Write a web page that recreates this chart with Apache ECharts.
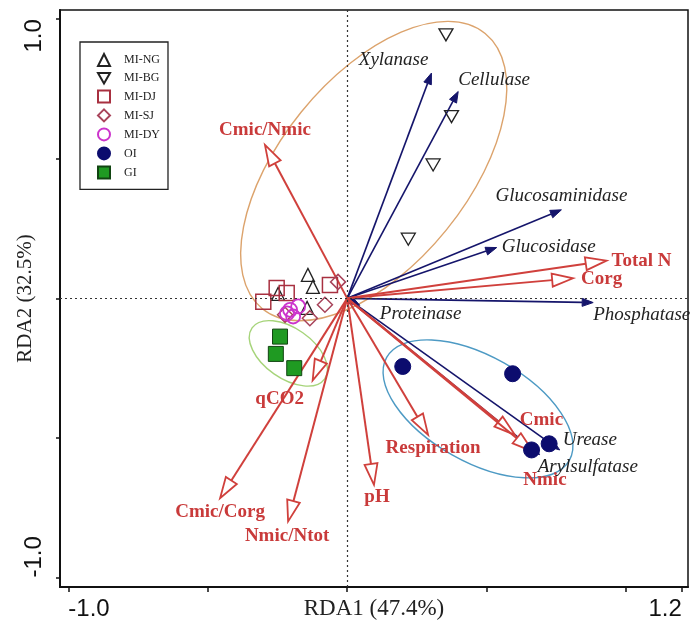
<!DOCTYPE html>
<html><head><meta charset="utf-8">
<script src="https://cdn.jsdelivr.net/npm/echarts@6/dist/echarts.min.js"></script>
<style>html,body{margin:0;padding:0;background:#fff}#c{width:694px;height:626px}</style>
</head><body><div id="c"></div>
<script>
// ---------- data ----------
const MI_NG = [[-0.141,0.084],[-0.123,0.041],[-0.248,0.016],[-0.144,-0.034]];
const MI_BG = [[0.354,0.944],[0.374,0.651],[0.308,0.478],[0.219,0.212]];
const MI_DJ = [[-0.253,0.037],[-0.217,0.019],[-0.301,-0.012],[-0.062,0.048]];
const MI_SJ = [[-0.033,0.059],[-0.080,-0.023],[-0.223,-0.059],[-0.134,-0.071]];
const MI_DY = [[-0.205,-0.041],[-0.176,-0.029],[-0.216,-0.054],[-0.194,-0.065]];
const OI = [[0.199,-0.244],[0.593,-0.270],[0.661,-0.543],[0.724,-0.521]];
const GI = [[-0.241,-0.137],[-0.256,-0.199],[-0.190,-0.250]];

const enzymeNames = ['Xylanase','Cellulase','Glucosaminidase','Glucosidase','Phosphatase','Proteinase','Urease','Arylsulfatase'];
const enzymeX = [0.302,0.398,0.768,0.536,0.882,0.045,0.762,0.690];
const enzymeY = [0.807,0.741,0.317,0.182,-0.015,-0.025,-0.543,-0.560];

const soilNames = ['Total N','Corg','Cmic/Nmic','qCO2','Cmic/Corg','Nmic/Ntot','pH','Respiration','Cmic','Nmic'];
const soilX = [0.930,0.810,-0.295,-0.124,-0.456,-0.212,0.096,0.290,0.601,0.666];
const soilY = [0.135,0.072,0.550,-0.294,-0.716,-0.799,-0.668,-0.489,-0.489,-0.549];

// group ellipses: centre, semi-axes, angle (deg)
const ellipseCX = [0.095,0.469,-0.211];
const ellipseCY = [0.456,-0.396,-0.197];
const ellipseA = [0.635,0.376,0.159];
const ellipseB = [0.335,0.189,0.090];
const ellipseAngle = [51,-29.4,-35];

const xTicks = [-1,-0.5,0,0.5,1,1.2];
const xTickLabels = [-1,1.2];
const yTicks = [-1,-0.5,0,0.5,1];
const yTickLabels = [-1,1];

// ---------- styles / layout ----------
const ellipseColors = ['#dca36c','#4d9ac4','#a6d47a'];
const NAVY = '#15156b', RED = '#d0403c';
const labelPos = {
  'Xylanase':[-3,-13,'right'], 'Cellulase':[0,-12,'left'], 'Glucosaminidase':[0,-14,'center'],
  'Glucosidase':[5,-1,'left'], 'Phosphatase':[0,12,'left'], 'Proteinase':[20,9,'left'],
  'Urease':[3,-10,'left'], 'Arylsulfatase':[-2,12,'left'],
  'Total N':[5,0,'left'], 'Corg':[8,1,'left'], 'Cmic/Nmic':[0,-15,'center'], 'qCO2':[-33,19,'center'],
  'Cmic/Corg':[0,14,'center'], 'Nmic/Ntot':[-1,15,'center'], 'pH':[3,12,'center'],
  'Respiration':[5,13,'center'], 'Cmic':[5,-15,'left'], 'Nmic':[12,28,'center']
};
const invTri = 'path://M0,0L20,0L10,17.3Z';
const groups = [
  {name:'MI-NG', data:MI_NG, symbol:'triangle', size:13, fill:'rgba(255,255,255,0)', stroke:'#222', bw:1.3},
  {name:'MI-BG', data:MI_BG, symbol:invTri, size:[14,12], fill:'rgba(255,255,255,0)', stroke:'#222', bw:1.3},
  {name:'MI-DJ', data:MI_DJ, symbol:'rect', size:15, fill:'rgba(255,255,255,0)', stroke:'#a83040', bw:1.5},
  {name:'MI-SJ', data:MI_SJ, symbol:'diamond', size:15, fill:'rgba(255,255,255,0)', stroke:'#a8435a', bw:1.5},
  {name:'MI-DY', data:MI_DY, symbol:'circle', size:14, fill:'rgba(255,255,255,0)', stroke:'#cc33cc', bw:1.8},
  {name:'OI', data:OI, symbol:'circle', size:16, fill:'#0c0c6e', stroke:'#0c0c6e', bw:1},
  {name:'GI', data:GI, symbol:'rect', size:15, fill:'#1f9a22', stroke:'#114411', bw:1}
];

function arrowSeries(names, xs, ys, soil){
  const color = soil ? RED : NAVY;
  return {
    type:'custom', coordinateSystem:'cartesian2d', silent:true, clip:false, z:3,
    data: xs.map((v,i)=>[v, ys[i]]),
    renderItem: function(params, api){
      const name = names[params.dataIndex];
      const o = api.coord([0,0]);
      const e = api.coord([api.value(0), api.value(1)]);
      const dx = e[0]-o[0], dy = e[1]-o[1];
      const L = Math.hypot(dx,dy) || 1;
      const ux = dx/L, uy = dy/L, px = -uy, py = ux;
      const hl = soil ? 21 : 11, hw = soil ? 6.5 : 4;
      const bx = e[0]-ux*hl, by = e[1]-uy*hl;
      const lp = labelPos[name] || [0,0,'left'];
      const children = [];
      if (L > hl) children.push({type:'line', shape:{x1:o[0],y1:o[1],x2:bx,y2:by}, style:{stroke:color, lineWidth: soil?2:1.6}});
      children.push({type:'polygon', shape:{points:[[e[0],e[1]],[bx+px*hw,by+py*hw],[bx-px*hw,by-py*hw]]},
        style:{fill: soil?'#fff':color, stroke:color, lineWidth: soil?1.8:1, lineJoin:'miter'}});
      children.push({type:'text', x:e[0]+lp[0], y:e[1]+lp[1], z2:10,
        style:{text:name, fill: soil ? '#c93a3a' : '#222',
          font: soil ? 'bold 19px "Liberation Serif"' : 'italic 19px "Liberation Serif"',
          align: lp[2], verticalAlign:'middle', textAlign: lp[2], textVerticalAlign:'middle'}});
      return {type:'group', children: children};
    }
  };
}

const series = [];
series.push({
  type:'custom', name:'ellipses', coordinateSystem:'cartesian2d', silent:true, z:1,
  data: ellipseCX.map((v,i)=>[v, ellipseCY[i], ellipseA[i], ellipseB[i], ellipseAngle[i], i]),
  renderItem: function(params, api){
    const c = api.coord([api.value(0), api.value(1)]);
    const s = api.size([api.value(2), api.value(3)]);
    return {type:'ellipse', x:c[0], y:c[1], rotation: api.value(4)*Math.PI/180,
      shape:{cx:0, cy:0, rx:s[0], ry:s[1]},
      style:{fill:'none', stroke: ellipseColors[api.value(5)], lineWidth:1.4}};
  },
  markLine:{silent:true, symbol:['none','none'], label:{show:false}, animation:false,
    lineStyle:{color:'#333', type:[2,3], width:1.2},
    data:[{xAxis:0},{yAxis:0}]}
});
series.push(arrowSeries(enzymeNames, enzymeX, enzymeY, false));
series.push(arrowSeries(soilNames, soilX, soilY, true));
groups.forEach(g=>{
  series.push({type:'scatter', name:g.name, data:g.data, symbol:g.symbol, symbolSize:g.size, z:4,
    itemStyle:{color:g.fill, borderColor:g.stroke, borderWidth:g.bw, opacity:1}});
});

const chart = echarts.init(document.getElementById('c'), null, {renderer:'canvas'});
chart.setOption({
  animation:false,
  backgroundColor:'#fff',
  grid:{left:60, right:6, top:10, bottom:39, outerBoundsMode:'none', containLabel:false,
    show:true, borderColor:'#111', borderWidth:1.5, backgroundColor:'transparent'},
  legend:{
    data: groups.map(g=>g.name), orient:'vertical', left:80, top:42, itemWidth:12, itemHeight:12, itemGap:5,
    symbolKeepAspect:true,
    padding:[11,8,10,17], borderColor:'#222', borderWidth:1.3, backgroundColor:'#fff', selectedMode:false,
    textStyle:{fontFamily:'Liberation Serif', fontSize:12, color:'#222', padding:[0,0,0,9]}
  },
  xAxis:{
    type:'value', min:-1.03, max:1.222, splitLine:{show:false},
    axisLine:{show:true, onZero:false, lineStyle:{color:'#111', width:2}},
    axisTick:{show:true, customValues:xTicks, length:5, lineStyle:{color:'#111', width:1.5}},
    axisLabel:{customValues:xTickLabels, formatter:v=>Number(v).toFixed(1), fontSize:24, fontFamily:'Liberation Sans', color:'#111', margin:10,
      alignMinLabel:'left', alignMaxLabel:'right'},
    name:'RDA1 (47.4%)', nameLocation:'middle', nameGap:10, nameMoveOverlap:false,
    nameTextStyle:{fontFamily:'Liberation Serif', fontSize:23, color:'#222'}
  },
  yAxis:{
    type:'value', min:-1.034, max:1.033, splitLine:{show:false},
    axisLine:{show:true, onZero:false, lineStyle:{color:'#111', width:2}},
    axisTick:{show:true, customValues:yTicks, length:4, lineStyle:{color:'#111', width:1.5}},
    axisLabel:{customValues:yTickLabels, formatter:v=>Number(v).toFixed(1), fontSize:24, fontFamily:'Liberation Sans', color:'#111', margin:14,
      rotate:90, alignMinLabel:'left', alignMaxLabel:'right'},
    name:'RDA2 (32.5%)', nameLocation:'middle', nameGap:24, nameMoveOverlap:false,
    nameTextStyle:{fontFamily:'Liberation Serif', fontSize:21, color:'#222'}
  },
  series: series
});
</script></body></html>
